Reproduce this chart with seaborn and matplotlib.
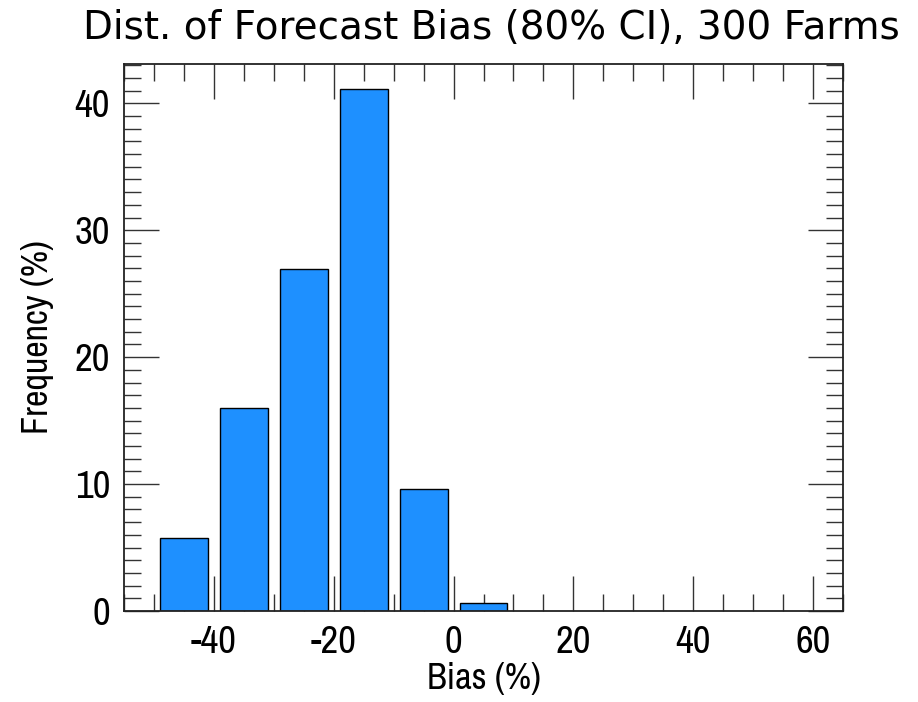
import matplotlib
matplotlib.use("Agg")
import matplotlib.pyplot as plt
import seaborn as sns
import pandas as pd
from matplotlib.ticker import MultipleLocator
from matplotlib import font_manager

bias_centers = [-45, -35, -25, -15, -5, 5]
frequency = [5.75, 16.0, 26.95, 41.1, 9.6, 0.65]
x_ticks = [-40, -20, 0, 20, 40, 60]
y_ticks = [0, 10, 20, 30, 40]

df = pd.DataFrame({"bias": bias_centers, "freq": frequency})

sns.set_theme(style="white")
plt.rcParams["axes.unicode_minus"] = False
names = {f.name for f in font_manager.fontManager.ttflist}
narrow = next((n for n in ["Liberation Sans Narrow", "Archivo Narrow", "DejaVu Sans"] if n in names))

fig = plt.figure(figsize=(9.18, 7.02), dpi=100)
ax = fig.add_axes([124/918, 1-611/702, (843-124)/918, (611-64)/702])

sns.barplot(data=df, x="bias", y="freq", native_scale=True, width=0.8,
            color="#1E90FF", saturation=1, edgecolor="black", linewidth=1, ax=ax)

ax.set_xlim(-55, 65)
ax.set_ylim(0, 43.1)
ax.set_xticks(x_ticks)
ax.set_yticks(y_ticks)
ax.xaxis.set_minor_locator(MultipleLocator(5))
ax.yaxis.set_minor_locator(MultipleLocator(1))
ax.tick_params(which="both", direction="in", top=True, right=True, bottom=True, left=True,
               colors="#333333", width=1)
ax.tick_params(which="major", length=25, labelsize=28, pad=10)
ax.tick_params(which="minor", length=12.5)
for lab in ax.get_xticklabels() + ax.get_yticklabels():
    lab.set_fontfamily(narrow)
    lab.set_color("black")
for s in ax.spines.values():
    s.set_color("#222222")
    s.set_linewidth(1.3)

ax.set_xlabel("Bias (%)", fontfamily=narrow, fontsize=26, color="black")
ax.set_ylabel("Frequency (%)", fontfamily=narrow, fontsize=26, color="black")
ax.xaxis.set_label_coords(0.5, -(662 - 611) / 547)
ax.yaxis.set_label_coords(-(124 - 54) / 719, 0.5)
ax.set_title("Dist. of Forecast Bias (80% CI), 300 Farms", fontfamily="DejaVu Sans",
             fontsize=28, color="black", pad=18, x=0.5 + 7.5 / 719)

fig.savefig("out.png", dpi=100)
